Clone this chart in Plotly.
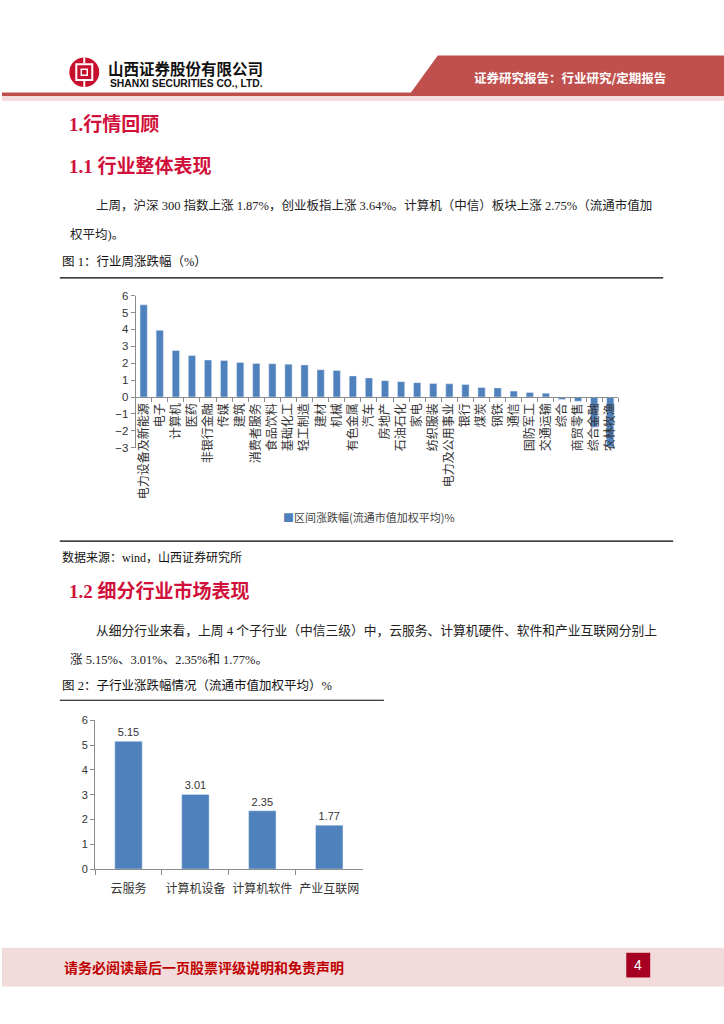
import plotly.graph_objects as go

W, H = 724, 1024


def px(x):
    return x / W


def py(y):
    return 1 - y / H


# ---------------- data ----------------
industries = [
    "电力设备及新能源", "电子", "计算机", "医药", "非银行金融", "传媒", "建筑",
    "消费者服务", "食品饮料", "基础化工", "轻工制造", "建材", "机械", "有色金属",
    "汽车", "房地产", "石油石化", "家电", "纺织服装", "电力及公用事业", "银行",
    "煤炭", "钢铁", "通信", "国防军工", "交通运输", "综合", "商贸零售",
    "综合金融", "农林牧渔",
]
industry_changes = [
    5.45, 3.95, 2.75, 2.45, 2.19, 2.16, 2.04,
    1.99, 1.97, 1.94, 1.90, 1.61, 1.57, 1.25,
    1.13, 0.97, 0.91, 0.85, 0.80, 0.78, 0.74,
    0.56, 0.54, 0.35, 0.27, 0.23, -0.14, -0.25,
    -1.79, -2.95,
]
legend_label = "区间涨跌幅(流通市值加权平均)%"

sub_industries = ["云服务", "计算机设备", "计算机软件", "产业互联网"]
sub_changes = [5.15, 3.01, 2.35, 1.77]

y1_ticks = [-3, -2, -1, 0, 1, 2, 3, 4, 5, 6]
y2_ticks = [0, 1, 2, 3, 4, 5, 6]

BAR = "#4F81BD"
AXIS = "#8C8C8C"
RED_TITLE = "#D0103A"
CJK = "Noto Sans CJK SC"
SERIF = "Liberation Serif, Noto Sans CJK SC"
SANS = "Liberation Sans, Noto Sans CJK SC"

fig = go.Figure()
fig.add_trace(go.Bar(
    x=industries, y=industry_changes, marker_color=BAR, width=0.45,
    xaxis="x", yaxis="y", name=legend_label, showlegend=False,
))
fig.add_trace(go.Bar(
    x=sub_industries, y=sub_changes, marker_color=BAR, width=0.41,
    xaxis="x2", yaxis="y2", showlegend=False,
    text=[f"{v:.2f}" for v in sub_changes], textposition="outside",
    textfont=dict(size=11, color="#333333", family=SANS), cliponaxis=False,
))

common_axis = dict(showgrid=False, zeroline=False, showline=True, linecolor=AXIS,
                   linewidth=1, ticks="outside", tickcolor=AXIS, fixedrange=True)

fig.update_layout(
    width=W, height=H, autosize=False, margin=dict(l=0, r=0, t=0, b=0, pad=0),
    paper_bgcolor="white", plot_bgcolor="rgba(0,0,0,0)",
    showlegend=False,
    xaxis=dict(common_axis, domain=[px(134), px(618)], anchor="free",
               position=py(396), tickson="boundaries", ticklen=4,
               tickangle=-90, tickfont=dict(size=12, color="#333333", family=CJK)),
    yaxis=dict(common_axis, domain=[py(447), py(293)], anchor="x",
               range=[-3, 6], tickvals=y1_ticks, ticklen=4,
               tickfont=dict(size=11.5, color="#333333", family=SANS)),
    xaxis2=dict(common_axis, domain=[px(93.3), px(361.7)], anchor="y2",
                tickson="boundaries", ticklen=5, tickangle=0,
                ticklabelstandoff=9,
                tickfont=dict(size=12, color="#333333", family=CJK)),
    yaxis2=dict(common_axis, domain=[py(873.3), py(722.7)], anchor="x2",
                range=[0, 6], tickvals=y2_ticks, ticklen=4,
                tickfont=dict(size=11, color="#333333", family=SANS)),
)

shapes = []


def rect(x0, y0, x1, y1, color, layer="below"):
    shapes.append(dict(type="rect", xref="paper", yref="paper",
                       x0=px(x0), x1=px(x1), y0=py(y1), y1=py(y0),
                       fillcolor=color, line=dict(width=0), layer=layer))


def hline(x0, x1, y, color="#000000", width=1):
    shapes.append(dict(type="line", xref="paper", yref="paper",
                       x0=px(x0), x1=px(x1), y0=py(y), y1=py(y),
                       line=dict(color=color, width=width)))


# header banner (trapezoid)
shapes.append(dict(type="path", xref="paper", yref="paper", layer="below",
                   path=f"M {px(437)},{py(50)} L {px(724)},{py(50)} L {px(724)},{py(89)} L {px(409)},{py(89)} Z",
                   fillcolor="#C0504D", line=dict(width=0)))
rect(0, 87.5, 724, 91, "#C0504D")
rect(0, 91, 724, 96, "#F4DEDD")

# logo
shapes.append(dict(type="circle", xref="paper", yref="paper",
                   x0=px(67.5), x1=px(97.5), y0=py(82), y1=py(52),
                   fillcolor="#C8102E", line=dict(width=0)))
shapes.append(dict(type="rect", xref="paper", yref="paper",
                   x0=px(74.5), x1=px(90.5), y0=py(75), y1=py(59),
                   fillcolor="rgba(0,0,0,0)", line=dict(color="white", width=2)))
shapes.append(dict(type="rect", xref="paper", yref="paper",
                   x0=px(79.5), x1=px(85.5), y0=py(70), y1=py(64),
                   fillcolor="rgba(0,0,0,0)", line=dict(color="white", width=1.5)))
rect(81.5, 52, 83.5, 58, "white", "above")
rect(81.5, 76, 83.5, 82, "white", "above")

# figure frames
hline(58, 663, 275, "#000000", 1.2)
hline(58, 673, 541.5, "#000000", 1.2)
hline(58, 383, 702.5, "#000000", 1.2)

# footer
rect(0, 953, 724, 992, "#F2DCDB")
rect(626, 958, 650, 983, "#A50021")

fig.update_layout(shapes=shapes)

ann = []


def text(x, y, s, size, color="#222222", family=SERIF, xanchor="left", bold=False):
    if bold:
        s = f"<b>{s}</b>"
    ann.append(dict(x=px(x), y=py(y), xref="paper", yref="paper", text=s,
                    showarrow=False, xanchor=xanchor, yanchor="middle",
                    font=dict(size=size, color=color, family=family)))


# header texts
text(104, 63, "山西证券股份有限公司", 15.5, "#111111", CJK, bold=True)
text(106, 78, "SHANXI SECURITIES CO., LTD.", 10.3, "#111111", SANS, bold=True)
text(471, 72, "证券研究报告：行业研究/定期报告", 12.5, "white", CJK, bold=True)

# section 1
text(65, 120, "1.行情回顾", 19, RED_TITLE, SERIF, bold=True)
text(65, 162, "1.1 行业整体表现", 19, RED_TITLE, SERIF, bold=True)
text(92, 202, "上周，沪深 300 指数上涨 1.87%，创业板指上涨 3.64%。计算机（中信）板块上涨 2.75%（流通市值加", 12.5)
text(66, 231, "权平均)。", 12.5)
text(58, 259, "图 1：行业周涨跌幅（%）", 12.5, "#111111", SERIF)

# legend of chart 1
text(280, 517, f"<span style='color:{BAR}'>■</span>{legend_label}", 11, "#444444", CJK)

text(58, 558, "数据来源：wind，山西证券研究所", 12, "#111111", SERIF)

# section 1.2
text(65, 592, "1.2 细分行业市场表现", 19, RED_TITLE, SERIF, bold=True)
text(92, 632, "从细分行业来看，上周 4 个子行业（中信三级）中，云服务、计算机硬件、软件和产业互联网分别上", 12.75)
text(66, 661, "涨 5.15%、3.01%、2.35%和 1.77%。", 12.5)
text(58, 688, "图 2：子行业涨跌幅情况（流通市值加权平均）%", 12.5, "#111111", SERIF)

# footer
text(60, 972, "请务必阅读最后一页股票评级说明和免责声明", 14, "#C00000", CJK, bold=True)
text(638, 970.5, "4", 14, "white", SANS, xanchor="center")

fig.update_layout(annotations=ann)

fig.write_html(
    "out.html",
    config={"displayModeBar": False, "responsive": False},
    post_script=(
        "document.documentElement.style.margin='0';"
        "document.documentElement.style.overflow='hidden';"
        "document.body.style.margin='0';"
        "document.body.style.overflow='hidden';"
    ),
)
